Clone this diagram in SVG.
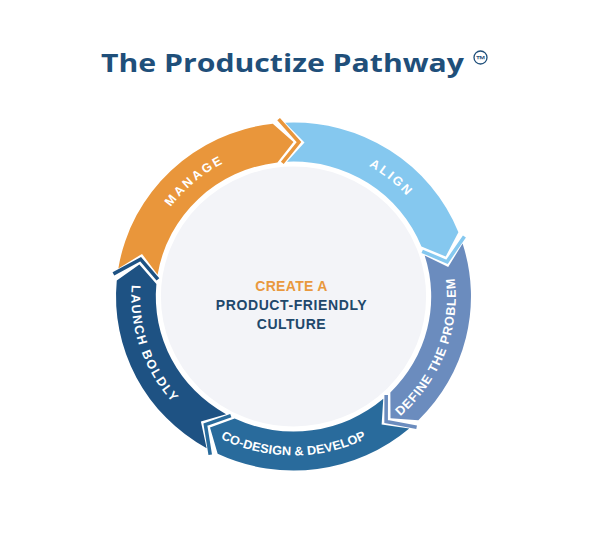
<svg xmlns="http://www.w3.org/2000/svg" xmlns:xlink="http://www.w3.org/1999/xlink" width="600" height="534" viewBox="0 0 600 534">
  <style>
    .lbl { font-family: "Liberation Sans", Arial, sans-serif; font-weight: 700; font-size: 12.5px; fill: #ffffff; }
    .chev { fill: none; stroke-width: 3.5; stroke-linejoin: miter; stroke-linecap: butt; }
    .ctr { font-family: "Liberation Sans", Arial, sans-serif; font-weight: 700; font-size: 14px; text-anchor: middle; }
  </style>
  <defs>
    <path id="pManage" d="M -140.95 -51.30 A 150 150 0 0 1 -26.05 -147.72"/>
    <path id="pAlign" d="M 23.47 -148.15 A 150 150 0 0 1 140.04 -53.76"/>
    <path id="pDefine" d="M 54.38 149.41 A 159 159 0 0 0 140.39 -74.65"/>
    <path id="pCodesign" d="M -121.80 102.20 A 159 159 0 0 0 121.80 102.20"/>
    <path id="pLaunch" d="M -137.70 -79.50 A 159 159 0 0 0 -59.56 147.42"/>
  </defs>
  <rect width="600" height="534" fill="#ffffff"/>

  <g id="title">
    <text x="101" y="72" font-family="'Open Sans', 'Liberation Sans', Arial, sans-serif" font-weight="700" font-size="25" fill="#1F4F7A" textLength="363" lengthAdjust="spacingAndGlyphs">The Productize Pathway</text>
    <circle cx="480.5" cy="57.5" r="6.5" fill="none" stroke="#1F4F7A" stroke-width="1.3"/>
    <text x="480.5" y="62.8" font-family="'Liberation Sans', Arial, sans-serif" font-size="10" font-weight="700" fill="#1F4F7A" text-anchor="middle">™</text>
  </g>

  <g transform="translate(293.5 296.5) scale(1.02 1)">
    <g id="center">
      <circle cx="0" cy="0" r="131" fill="#F3F4F8" stroke="#ffffff" stroke-width="2"/>
    </g>

    <g id="manage">
      <path fill="#E9963B" d="M -171.71 -28.12 A 174 174 0 0 1 -20.30 -172.81 L 0 -154.5 L -15.75 -134.08 A 135 135 0 0 0 -133.23 -21.82 L -148.51 -42.59 Z"/>
      <text class="lbl" letter-spacing="2.4"><textPath href="#pManage" xlink:href="#pManage" startOffset="50%" text-anchor="middle">MANAGE</textPath></text>
    </g>
    <g id="align">
      <path fill="#85C8EF" d="M -8.20 -173.81 A 174 174 0 0 1 161.67 -64.34 L 149.24 -39.99 L 125.43 -49.92 A 135 135 0 0 0 -6.36 -134.85 L 10.78 -154.12 Z"/>
      <text class="lbl" letter-spacing="2.2"><textPath href="#pAlign" xlink:href="#pAlign" startOffset="50%" text-anchor="middle">ALIGN</textPath></text>
    </g>
    <g id="define">
      <path fill="#6B8CBE" d="M 165.76 -52.90 A 174 174 0 0 1 122.39 123.68 L 95.12 121.75 L 94.96 95.96 A 135 135 0 0 0 128.61 -41.04 L 151.66 -29.48 Z"/>
      <text class="lbl" letter-spacing="0.8"><textPath href="#pDefine" xlink:href="#pDefine" startOffset="50%" text-anchor="middle">DEFINE THE PROBLEM</textPath></text>
    </g>
    <g id="codesign">
      <path fill="#296B9C" d="M 113.47 131.91 A 174 174 0 0 1 -74.36 157.31 L -81.87 131.02 L -57.69 122.05 A 135 135 0 0 0 88.03 102.35 L 86.39 128.09 Z"/>
      <text class="lbl" letter-spacing="0.1"><textPath href="#pCodesign" xlink:href="#pCodesign" startOffset="50%" text-anchor="middle">CO-DESIGN &amp; DEVELOP</textPath></text>
    </g>
    <g id="launch">
      <path fill="#1E5283" d="M -85.15 151.74 A 174 174 0 0 1 -173.26 -16.07 L -151.12 -32.12 L -134.42 -12.47 A 135 135 0 0 0 -66.07 117.73 L -90.81 124.99 Z"/>
      <text class="lbl" letter-spacing="1.7"><textPath href="#pLaunch" xlink:href="#pLaunch" startOffset="50%" text-anchor="middle">LAUNCH BOLDLY</textPath></text>
    </g>

    <g id="connectors">
      <polyline class="chev" stroke="#E9963B" points="-14.59,-177.40 5.39,-154.41 -10.98,-133.55"/>
      <polyline class="chev" stroke="#85C8EF" points="167.58,-60.00 150.54,-34.75 126.16,-45.17"/>
      <polyline class="chev" stroke="#6B8CBE" points="120.71,130.81 90.81,124.99 90.87,98.48"/>
      <polyline class="chev" stroke="#296B9C" points="-81.64,158.17 -86.39,128.09 -61.46,119.08"/>
      <polyline class="chev" stroke="#1E5283" points="-176.56,-22.62 -149.91,-37.38 -132.91,-17.03"/>
    </g>
  </g>

  <g id="center-text">
    <text class="ctr" x="291.5" y="290.5" fill="#E9993E" letter-spacing="0.3">CREATE A</text>
    <text class="ctr" x="291.5" y="309.5" fill="#21486B" letter-spacing="0.6">PRODUCT-FRIENDLY</text>
    <text class="ctr" x="291.5" y="328.5" fill="#21486B" letter-spacing="0.5">CULTURE</text>
  </g>
</svg>
